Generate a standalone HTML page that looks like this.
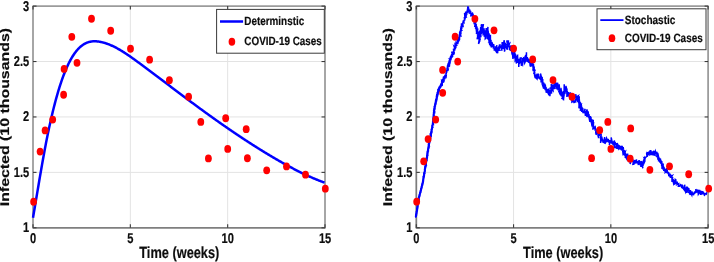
<!DOCTYPE html>
<html><head><meta charset="utf-8"><style>
html,body{margin:0;padding:0;background:#fff;width:714px;height:262px;overflow:hidden}
svg{display:block;-webkit-font-smoothing:antialiased;filter:blur(0.3px)}
.t text{filter:grayscale(1)}
text{font-family:"Liberation Sans", sans-serif;font-weight:bold;text-rendering:geometricPrecision;fill:#0d0d0d;stroke:#0d0d0d;stroke-width:0.2px}
</style></head><body>
<svg class="t" width="714" height="262" viewBox="0 0 714 262">
<rect width="714" height="262" fill="#fff"/>
<line x1="130.33" y1="6.1" x2="130.33" y2="227.8" stroke="#e3e3e3" stroke-width="1"/>
<line x1="227.67" y1="6.1" x2="227.67" y2="227.8" stroke="#e3e3e3" stroke-width="1"/>
<line x1="33.0" y1="172.38" x2="325.0" y2="172.38" stroke="#e3e3e3" stroke-width="1"/>
<line x1="33.0" y1="116.95" x2="325.0" y2="116.95" stroke="#e3e3e3" stroke-width="1"/>
<line x1="33.0" y1="61.53" x2="325.0" y2="61.53" stroke="#e3e3e3" stroke-width="1"/>
<line x1="513.57" y1="6.1" x2="513.57" y2="227.8" stroke="#e3e3e3" stroke-width="1"/>
<line x1="610.83" y1="6.1" x2="610.83" y2="227.8" stroke="#e3e3e3" stroke-width="1"/>
<line x1="416.3" y1="172.38" x2="708.1" y2="172.38" stroke="#e3e3e3" stroke-width="1"/>
<line x1="416.3" y1="116.95" x2="708.1" y2="116.95" stroke="#e3e3e3" stroke-width="1"/>
<line x1="416.3" y1="61.53" x2="708.1" y2="61.53" stroke="#e3e3e3" stroke-width="1"/>
<line x1="32.4" y1="6.1" x2="325.6" y2="6.1" stroke="#9b9b9b" stroke-width="1.8"/>
<line x1="32.4" y1="227.8" x2="325.6" y2="227.8" stroke="#7f7f7f" stroke-width="1.7"/>
<line x1="33.0" y1="6.1" x2="33.0" y2="227.8" stroke="#9a9a9a" stroke-width="1.75"/>
<line x1="325.0" y1="6.1" x2="325.0" y2="227.8" stroke="#9a9a9a" stroke-width="1.75"/>
<line x1="33.00" y1="227.8" x2="33.00" y2="224.3" stroke="#3a3a3a" stroke-width="1.1"/>
<line x1="33.00" y1="6.1" x2="33.00" y2="9.6" stroke="#3a3a3a" stroke-width="1.1"/>
<line x1="130.33" y1="227.8" x2="130.33" y2="224.3" stroke="#3a3a3a" stroke-width="1.1"/>
<line x1="130.33" y1="6.1" x2="130.33" y2="9.6" stroke="#3a3a3a" stroke-width="1.1"/>
<line x1="227.67" y1="227.8" x2="227.67" y2="224.3" stroke="#3a3a3a" stroke-width="1.1"/>
<line x1="227.67" y1="6.1" x2="227.67" y2="9.6" stroke="#3a3a3a" stroke-width="1.1"/>
<line x1="325.00" y1="227.8" x2="325.00" y2="224.3" stroke="#3a3a3a" stroke-width="1.1"/>
<line x1="325.00" y1="6.1" x2="325.00" y2="9.6" stroke="#3a3a3a" stroke-width="1.1"/>
<line x1="33.0" y1="227.80" x2="36.5" y2="227.80" stroke="#3a3a3a" stroke-width="1.1"/>
<line x1="325.0" y1="227.80" x2="321.5" y2="227.80" stroke="#3a3a3a" stroke-width="1.1"/>
<line x1="33.0" y1="172.38" x2="36.5" y2="172.38" stroke="#3a3a3a" stroke-width="1.1"/>
<line x1="325.0" y1="172.38" x2="321.5" y2="172.38" stroke="#3a3a3a" stroke-width="1.1"/>
<line x1="33.0" y1="116.95" x2="36.5" y2="116.95" stroke="#3a3a3a" stroke-width="1.1"/>
<line x1="325.0" y1="116.95" x2="321.5" y2="116.95" stroke="#3a3a3a" stroke-width="1.1"/>
<line x1="33.0" y1="61.53" x2="36.5" y2="61.53" stroke="#3a3a3a" stroke-width="1.1"/>
<line x1="325.0" y1="61.53" x2="321.5" y2="61.53" stroke="#3a3a3a" stroke-width="1.1"/>
<line x1="33.0" y1="6.10" x2="36.5" y2="6.10" stroke="#3a3a3a" stroke-width="1.1"/>
<line x1="325.0" y1="6.10" x2="321.5" y2="6.10" stroke="#3a3a3a" stroke-width="1.1"/>
<text transform="translate(33.10,243.10) scale(0.78,1)" font-size="14.2" text-anchor="middle" >0</text>
<text transform="translate(130.43,243.10) scale(0.78,1)" font-size="14.2" text-anchor="middle" >5</text>
<text transform="translate(227.77,243.10) scale(0.78,1)" font-size="14.2" text-anchor="middle" >10</text>
<text transform="translate(325.10,243.10) scale(0.78,1)" font-size="14.2" text-anchor="middle" >15</text>
<text transform="translate(29.20,232.20) scale(0.78,1)" font-size="14.2" text-anchor="end" >1</text>
<text transform="translate(29.20,176.78) scale(0.78,1)" font-size="14.2" text-anchor="end" >1.5</text>
<text transform="translate(29.20,121.35) scale(0.78,1)" font-size="14.2" text-anchor="end" >2</text>
<text transform="translate(29.20,65.93) scale(0.78,1)" font-size="14.2" text-anchor="end" >2.5</text>
<text transform="translate(29.20,10.50) scale(0.78,1)" font-size="14.2" text-anchor="end" >3</text>
<text transform="translate(179.30,258.30) scale(0.79,1)" font-size="16.2" text-anchor="middle" >Time (weeks)</text>
<text transform="translate(8.60,117.1) rotate(-90) scale(1,0.8)" font-size="15.9" text-anchor="middle">Infected (10 thousands)</text>
<line x1="415.7" y1="6.1" x2="708.7" y2="6.1" stroke="#9b9b9b" stroke-width="1.8"/>
<line x1="415.7" y1="227.8" x2="708.7" y2="227.8" stroke="#7f7f7f" stroke-width="1.7"/>
<line x1="416.3" y1="6.1" x2="416.3" y2="227.8" stroke="#7c7c7c" stroke-width="1.75"/>
<line x1="708.1" y1="6.1" x2="708.1" y2="227.8" stroke="#9a9a9a" stroke-width="1.75"/>
<line x1="416.30" y1="227.8" x2="416.30" y2="224.3" stroke="#3a3a3a" stroke-width="1.1"/>
<line x1="416.30" y1="6.1" x2="416.30" y2="9.6" stroke="#3a3a3a" stroke-width="1.1"/>
<line x1="513.57" y1="227.8" x2="513.57" y2="224.3" stroke="#3a3a3a" stroke-width="1.1"/>
<line x1="513.57" y1="6.1" x2="513.57" y2="9.6" stroke="#3a3a3a" stroke-width="1.1"/>
<line x1="610.83" y1="227.8" x2="610.83" y2="224.3" stroke="#3a3a3a" stroke-width="1.1"/>
<line x1="610.83" y1="6.1" x2="610.83" y2="9.6" stroke="#3a3a3a" stroke-width="1.1"/>
<line x1="708.10" y1="227.8" x2="708.10" y2="224.3" stroke="#3a3a3a" stroke-width="1.1"/>
<line x1="708.10" y1="6.1" x2="708.10" y2="9.6" stroke="#3a3a3a" stroke-width="1.1"/>
<line x1="416.3" y1="227.80" x2="419.8" y2="227.80" stroke="#3a3a3a" stroke-width="1.1"/>
<line x1="708.1" y1="227.80" x2="704.6" y2="227.80" stroke="#3a3a3a" stroke-width="1.1"/>
<line x1="416.3" y1="172.38" x2="419.8" y2="172.38" stroke="#3a3a3a" stroke-width="1.1"/>
<line x1="708.1" y1="172.38" x2="704.6" y2="172.38" stroke="#3a3a3a" stroke-width="1.1"/>
<line x1="416.3" y1="116.95" x2="419.8" y2="116.95" stroke="#3a3a3a" stroke-width="1.1"/>
<line x1="708.1" y1="116.95" x2="704.6" y2="116.95" stroke="#3a3a3a" stroke-width="1.1"/>
<line x1="416.3" y1="61.53" x2="419.8" y2="61.53" stroke="#3a3a3a" stroke-width="1.1"/>
<line x1="708.1" y1="61.53" x2="704.6" y2="61.53" stroke="#3a3a3a" stroke-width="1.1"/>
<line x1="416.3" y1="6.10" x2="419.8" y2="6.10" stroke="#3a3a3a" stroke-width="1.1"/>
<line x1="708.1" y1="6.10" x2="704.6" y2="6.10" stroke="#3a3a3a" stroke-width="1.1"/>
<text transform="translate(416.40,243.10) scale(0.78,1)" font-size="14.2" text-anchor="middle" >0</text>
<text transform="translate(513.67,243.10) scale(0.78,1)" font-size="14.2" text-anchor="middle" >5</text>
<text transform="translate(610.93,243.10) scale(0.78,1)" font-size="14.2" text-anchor="middle" >10</text>
<text transform="translate(708.20,243.10) scale(0.78,1)" font-size="14.2" text-anchor="middle" >15</text>
<text transform="translate(412.50,232.20) scale(0.78,1)" font-size="14.2" text-anchor="end" >1</text>
<text transform="translate(412.50,176.78) scale(0.78,1)" font-size="14.2" text-anchor="end" >1.5</text>
<text transform="translate(412.50,121.35) scale(0.78,1)" font-size="14.2" text-anchor="end" >2</text>
<text transform="translate(412.50,65.93) scale(0.78,1)" font-size="14.2" text-anchor="end" >2.5</text>
<text transform="translate(412.50,10.50) scale(0.78,1)" font-size="14.2" text-anchor="end" >3</text>
<text transform="translate(563.10,258.30) scale(0.79,1)" font-size="16.2" text-anchor="middle" >Time (weeks)</text>
<text transform="translate(391.90,117.1) rotate(-90) scale(1,0.8)" font-size="15.9" text-anchor="middle">Infected (10 thousands)</text>
<path d="M33.00,217.74 L33.50,214.82 L34.00,211.88 L34.50,208.93 L35.00,205.98 L35.50,203.01 L36.00,200.04 L36.50,197.07 L37.00,194.10 L37.50,191.14 L38.00,188.17 L38.50,185.22 L39.00,182.27 L39.50,179.33 L40.00,176.40 L40.50,173.49 L41.00,170.60 L41.50,167.73 L42.00,164.87 L42.50,162.04 L43.00,159.24 L43.50,156.46 L44.00,153.71 L44.50,151.00 L45.00,148.32 L45.50,145.67 L46.00,143.07 L46.50,140.50 L47.00,137.98 L47.50,135.50 L48.00,133.05 L48.50,130.65 L49.00,128.29 L49.50,125.97 L50.00,123.69 L50.50,121.44 L51.00,119.23 L51.50,117.07 L52.00,114.94 L52.50,112.84 L53.00,110.79 L53.50,108.77 L54.00,106.78 L54.50,104.83 L55.00,102.92 L55.50,101.04 L56.00,99.19 L56.50,97.38 L57.00,95.60 L57.50,93.86 L58.00,92.15 L58.50,90.47 L59.00,88.83 L59.50,87.22 L60.00,85.64 L60.50,84.10 L61.00,82.59 L61.50,81.11 L62.00,79.67 L62.50,78.26 L63.00,76.88 L63.50,75.54 L64.00,74.23 L64.50,72.95 L65.00,71.70 L65.50,70.48 L66.00,69.29 L66.50,68.14 L67.00,67.01 L67.50,65.92 L68.00,64.85 L68.50,63.81 L69.00,62.80 L69.50,61.82 L70.00,60.87 L70.50,59.95 L71.00,59.05 L71.50,58.18 L72.00,57.34 L72.50,56.52 L73.00,55.73 L73.50,54.96 L74.00,54.22 L74.50,53.51 L75.00,52.82 L75.50,52.15 L76.00,51.51 L76.50,50.89 L77.00,50.29 L77.50,49.72 L78.00,49.17 L78.50,48.64 L79.00,48.13 L79.50,47.65 L80.00,47.18 L80.50,46.74 L81.00,46.31 L81.50,45.91 L82.00,45.53 L82.50,45.16 L83.00,44.82 L83.50,44.49 L84.00,44.18 L84.50,43.89 L85.00,43.61 L85.50,43.36 L86.00,43.12 L86.50,42.90 L87.00,42.69 L87.50,42.50 L88.00,42.32 L88.50,42.16 L89.00,42.01 L89.50,41.88 L90.00,41.76 L90.50,41.66 L91.00,41.57 L91.50,41.49 L92.00,41.43 L92.50,41.37 L93.00,41.33 L93.50,41.30 L94.00,41.28 L94.50,41.28 L95.00,41.28 L95.50,41.29 L96.00,41.31 L96.50,41.35 L97.00,41.39 L97.50,41.44 L98.00,41.50 L98.50,41.56 L99.00,41.64 L99.50,41.72 L100.00,41.81 L100.50,41.90 L101.00,42.00 L101.50,42.11 L102.00,42.23 L102.50,42.35 L103.00,42.47 L103.50,42.61 L104.00,42.75 L104.50,42.89 L105.00,43.04 L105.50,43.20 L106.00,43.36 L106.50,43.53 L107.00,43.71 L107.50,43.89 L108.00,44.07 L108.50,44.26 L109.00,44.46 L109.50,44.66 L110.00,44.86 L110.50,45.07 L111.00,45.29 L111.50,45.51 L112.00,45.74 L112.50,45.97 L113.00,46.20 L113.50,46.44 L114.00,46.68 L114.50,46.93 L115.00,47.19 L115.50,47.44 L116.00,47.70 L116.50,47.97 L117.00,48.24 L117.50,48.51 L118.00,48.79 L118.50,49.07 L119.00,49.35 L119.50,49.64 L120.00,49.94 L120.50,50.23 L121.00,50.53 L121.50,50.83 L122.00,51.14 L122.50,51.44 L123.00,51.76 L123.50,52.07 L124.00,52.39 L124.50,52.71 L125.00,53.03 L125.50,53.36 L126.00,53.68 L126.50,54.02 L127.00,54.35 L127.50,54.68 L128.00,55.02 L128.50,55.36 L129.00,55.70 L129.50,56.05 L130.00,56.39 L130.50,56.74 L131.00,57.09 L131.50,57.44 L132.00,57.80 L132.50,58.15 L133.00,58.51 L133.50,58.87 L134.00,59.23 L134.50,59.59 L135.00,59.95 L135.50,60.31 L136.00,60.67 L136.50,61.04 L137.00,61.40 L137.50,61.77 L138.00,62.14 L138.50,62.50 L139.00,62.87 L139.50,63.24 L140.00,63.61 L140.50,63.98 L141.00,64.35 L141.50,64.72 L142.00,65.09 L142.50,65.46 L143.00,65.83 L143.50,66.20 L144.00,66.57 L144.50,66.95 L145.00,67.32 L145.50,67.69 L146.00,68.06 L146.50,68.43 L147.00,68.81 L147.50,69.18 L148.00,69.55 L148.50,69.93 L149.00,70.30 L149.50,70.68 L150.00,71.05 L150.50,71.42 L151.00,71.80 L151.50,72.17 L152.00,72.55 L152.50,72.92 L153.00,73.30 L153.50,73.68 L154.00,74.05 L154.50,74.43 L155.00,74.80 L155.50,75.18 L156.00,75.56 L156.50,75.93 L157.00,76.31 L157.50,76.68 L158.00,77.06 L158.50,77.44 L159.00,77.82 L159.50,78.19 L160.00,78.57 L160.50,78.95 L161.00,79.32 L161.50,79.70 L162.00,80.08 L162.50,80.46 L163.00,80.83 L163.50,81.21 L164.00,81.59 L164.50,81.97 L165.00,82.34 L165.50,82.72 L166.00,83.10 L166.50,83.48 L167.00,83.86 L167.50,84.23 L168.00,84.61 L168.50,84.99 L169.00,85.37 L169.50,85.74 L170.00,86.12 L170.50,86.50 L171.00,86.88 L171.50,87.26 L172.00,87.63 L172.50,88.01 L173.00,88.39 L173.50,88.77 L174.00,89.14 L174.50,89.52 L175.00,89.90 L175.50,90.27 L176.00,90.65 L176.50,91.03 L177.00,91.40 L177.50,91.78 L178.00,92.16 L178.50,92.53 L179.00,92.91 L179.50,93.29 L180.00,93.66 L180.50,94.04 L181.00,94.41 L181.50,94.79 L182.00,95.17 L182.50,95.54 L183.00,95.92 L183.50,96.29 L184.00,96.67 L184.50,97.04 L185.00,97.41 L185.50,97.79 L186.00,98.16 L186.50,98.54 L187.00,98.91 L187.50,99.28 L188.00,99.65 L188.50,100.03 L189.00,100.40 L189.50,100.77 L190.00,101.14 L190.50,101.52 L191.00,101.89 L191.50,102.26 L192.00,102.63 L192.50,103.00 L193.00,103.37 L193.50,103.74 L194.00,104.11 L194.50,104.48 L195.00,104.85 L195.50,105.22 L196.00,105.59 L196.50,105.95 L197.00,106.32 L197.50,106.69 L198.00,107.06 L198.50,107.42 L199.00,107.79 L199.50,108.16 L200.00,108.52 L200.50,108.89 L201.00,109.25 L201.50,109.62 L202.00,109.98 L202.50,110.35 L203.00,110.71 L203.50,111.07 L204.00,111.44 L204.50,111.80 L205.00,112.16 L205.50,112.52 L206.00,112.89 L206.50,113.25 L207.00,113.61 L207.50,113.97 L208.00,114.33 L208.50,114.69 L209.00,115.05 L209.50,115.41 L210.00,115.77 L210.50,116.13 L211.00,116.48 L211.50,116.84 L212.00,117.20 L212.50,117.56 L213.00,117.91 L213.50,118.27 L214.00,118.62 L214.50,118.98 L215.00,119.33 L215.50,119.69 L216.00,120.04 L216.50,120.40 L217.00,120.75 L217.50,121.10 L218.00,121.46 L218.50,121.81 L219.00,122.16 L219.50,122.51 L220.00,122.86 L220.50,123.21 L221.00,123.56 L221.50,123.91 L222.00,124.26 L222.50,124.61 L223.00,124.96 L223.50,125.31 L224.00,125.66 L224.50,126.00 L225.00,126.35 L225.50,126.70 L226.00,127.04 L226.50,127.39 L227.00,127.73 L227.50,128.08 L228.00,128.42 L228.50,128.76 L229.00,129.11 L229.50,129.45 L230.00,129.79 L230.50,130.13 L231.00,130.48 L231.50,130.82 L232.00,131.16 L232.50,131.50 L233.00,131.84 L233.50,132.18 L234.00,132.51 L234.50,132.85 L235.00,133.19 L235.50,133.53 L236.00,133.86 L236.50,134.20 L237.00,134.54 L237.50,134.87 L238.00,135.21 L238.50,135.54 L239.00,135.87 L239.50,136.21 L240.00,136.54 L240.50,136.87 L241.00,137.20 L241.50,137.54 L242.00,137.87 L242.50,138.20 L243.00,138.53 L243.50,138.86 L244.00,139.19 L244.50,139.51 L245.00,139.84 L245.50,140.17 L246.00,140.50 L246.50,140.82 L247.00,141.15 L247.50,141.47 L248.00,141.80 L248.50,142.12 L249.00,142.44 L249.50,142.77 L250.00,143.09 L250.50,143.41 L251.00,143.73 L251.50,144.05 L252.00,144.38 L252.50,144.69 L253.00,145.01 L253.50,145.33 L254.00,145.65 L254.50,145.97 L255.00,146.29 L255.50,146.60 L256.00,146.92 L256.50,147.23 L257.00,147.55 L257.50,147.86 L258.00,148.18 L258.50,148.49 L259.00,148.80 L259.50,149.11 L260.00,149.43 L260.50,149.74 L261.00,150.05 L261.50,150.36 L262.00,150.66 L262.50,150.97 L263.00,151.28 L263.50,151.59 L264.00,151.90 L264.50,152.20 L265.00,152.51 L265.50,152.81 L266.00,153.12 L266.50,153.42 L267.00,153.72 L267.50,154.03 L268.00,154.33 L268.50,154.63 L269.00,154.93 L269.50,155.23 L270.00,155.53 L270.50,155.83 L271.00,156.13 L271.50,156.42 L272.00,156.72 L272.50,157.02 L273.00,157.31 L273.50,157.61 L274.00,157.90 L274.50,158.19 L275.00,158.49 L275.50,158.78 L276.00,159.07 L276.50,159.36 L277.00,159.65 L277.50,159.94 L278.00,160.23 L278.50,160.52 L279.00,160.80 L279.50,161.09 L280.00,161.38 L280.50,161.66 L281.00,161.94 L281.50,162.23 L282.00,162.51 L282.50,162.79 L283.00,163.07 L283.50,163.35 L284.00,163.63 L284.50,163.91 L285.00,164.18 L285.50,164.46 L286.00,164.74 L286.50,165.01 L287.00,165.28 L287.50,165.56 L288.00,165.83 L288.50,166.10 L289.00,166.37 L289.50,166.64 L290.00,166.91 L290.50,167.17 L291.00,167.44 L291.50,167.70 L292.00,167.97 L292.50,168.23 L293.00,168.49 L293.50,168.76 L294.00,169.02 L294.50,169.27 L295.00,169.53 L295.50,169.79 L296.00,170.05 L296.50,170.30 L297.00,170.55 L297.50,170.81 L298.00,171.06 L298.50,171.31 L299.00,171.56 L299.50,171.81 L300.00,172.05 L300.50,172.30 L301.00,172.55 L301.50,172.79 L302.00,173.03 L302.50,173.27 L303.00,173.51 L303.50,173.75 L304.00,173.99 L304.50,174.23 L305.00,174.46 L305.50,174.70 L306.00,174.93 L306.50,175.16 L307.00,175.39 L307.50,175.62 L308.00,175.85 L308.50,176.08 L309.00,176.31 L309.50,176.53 L310.00,176.75 L310.50,176.97 L311.00,177.20 L311.50,177.41 L312.00,177.63 L312.50,177.85 L313.00,178.06 L313.50,178.28 L314.00,178.49 L314.50,178.70 L315.00,178.91 L315.50,179.12 L316.00,179.33 L316.50,179.53 L317.00,179.74 L317.50,179.94 L318.00,180.14 L318.50,180.34 L319.00,180.54 L319.50,180.74 L320.00,180.93 L320.50,181.13 L321.00,181.32 L321.50,181.51 L322.00,181.70 L322.50,181.89 L323.00,182.08 L323.50,182.26 L324.00,182.45 L324.50,182.63" fill="none" stroke="#0000ff" stroke-width="2.5" stroke-linejoin="round" stroke-linecap="butt"/>
<path d="M415.90,217.10 L415.99,216.71 L415.86,216.68 L415.90,215.87 L416.09,215.83 L416.00,215.98 L416.05,215.40 L416.11,214.42 L416.18,215.02 L416.34,213.81 L416.33,213.49 L416.52,213.93 L416.39,213.50 L416.44,213.33 L416.64,213.06 L416.64,212.82 L416.60,212.75 L416.55,211.90 L416.64,211.69 L416.72,211.27 L416.85,210.79 L416.96,210.54 L416.98,210.62 L416.97,210.25 L417.12,210.41 L417.20,209.60 L416.98,209.05 L417.04,208.51 L417.19,209.04 L417.32,208.96 L417.31,208.28 L417.39,208.07 L417.41,207.33 L417.53,206.90 L417.61,206.76 L417.38,206.13 L417.62,206.44 L417.71,205.37 L417.59,204.85 L417.55,205.05 L417.73,205.52 L417.65,204.95 L417.92,204.72 L417.85,204.45 L418.05,204.17 L417.99,204.02 L418.14,203.56 L418.00,203.38 L418.09,202.11 L418.31,202.00 L418.10,202.77 L418.17,202.00 L418.30,201.82 L418.19,201.04 L418.37,200.83 L418.58,200.36 L418.54,200.73 L418.59,199.58 L418.44,199.74 L418.74,200.01 L418.76,198.81 L418.59,198.60 L418.80,198.83 L418.72,198.42 L418.75,198.05 L418.74,197.64 L418.86,197.51 L418.90,197.40 L419.24,197.03 L419.12,196.37 L419.22,196.10 L419.46,195.82 L419.58,195.80 L419.36,194.94 L419.44,195.16 L419.75,194.61 L419.61,194.73 L419.80,195.09 L419.75,194.03 L419.95,193.52 L420.17,193.29 L420.01,193.40 L420.12,192.29 L420.24,192.75 L420.40,192.70 L420.48,191.72 L420.61,191.79 L420.63,191.67 L420.68,190.43 L420.63,190.74 L420.60,190.84 L420.75,190.39 L420.96,189.85 L421.12,189.90 L421.21,189.10 L421.03,189.27 L421.11,188.53 L421.31,188.42 L421.48,188.29 L421.47,187.99 L421.59,187.09 L421.70,187.65 L421.73,187.16 L421.61,186.58 L421.88,185.85 L422.02,185.66 L421.90,186.30 L422.09,184.66 L421.98,185.66 L422.29,184.98 L422.34,184.69 L422.47,184.68 L422.43,184.52 L422.33,183.37 L422.37,183.76 L422.61,183.62 L422.82,182.68 L422.86,181.77 L422.73,182.51 L422.81,181.90 L422.98,181.93 L422.88,181.28 L423.19,181.41 L423.13,180.45 L423.29,180.75 L423.20,179.35 L423.26,180.23 L423.28,179.45 L423.24,179.21 L423.29,179.62 L423.44,178.64 L423.44,178.25 L423.56,177.54 L423.47,177.09 L423.67,177.20 L423.79,177.14 L423.75,177.16 L423.94,175.93 L423.83,176.00 L423.90,175.60 L424.02,175.35 L423.99,174.89 L424.20,175.20 L424.25,174.51 L424.07,173.70 L424.32,173.29 L424.13,173.52 L424.15,173.88 L424.26,173.57 L424.50,173.50 L424.59,172.94 L424.56,172.73 L424.43,172.60 L424.50,172.55 L424.81,170.79 L424.87,170.82 L424.87,171.17 L424.81,170.82 L424.79,170.66 L424.98,170.12 L424.78,170.03 L424.83,169.00 L424.98,168.96 L424.94,168.46 L425.31,168.17 L425.05,168.46 L425.15,166.87 L425.20,168.28 L425.20,167.48 L425.49,166.23 L425.34,167.13 L425.50,166.94 L425.59,166.84 L425.63,165.93 L425.59,165.59 L425.71,166.07 L425.82,165.33 L425.61,165.30 L425.94,164.72 L425.87,163.67 L426.05,163.83 L425.96,163.40 L425.91,163.34 L425.89,163.01 L425.99,162.68 L426.23,162.10 L426.12,162.25 L426.18,161.38 L426.12,161.33 L426.42,161.03 L426.40,160.81 L426.58,160.61 L426.34,160.56 L426.52,160.02 L426.69,159.15 L426.69,158.86 L426.84,159.24 L426.79,158.22 L426.81,158.98 L426.65,157.73 L426.73,157.96 L426.82,158.05 L426.83,157.44 L427.13,157.52 L427.11,156.95 L427.02,156.19 L427.13,156.25 L427.11,155.90 L427.41,155.73 L427.20,155.56 L427.50,154.67 L427.21,154.32 L427.39,154.52 L427.37,153.38 L427.53,153.64 L427.43,153.58 L427.59,152.97 L427.60,152.75 L427.62,152.39 L427.86,151.63 L427.87,151.51 L427.82,151.29 L427.85,150.34 L428.04,151.10 L428.06,150.55 L428.20,151.03 L428.15,150.19 L428.02,149.60 L428.21,148.63 L428.36,148.29 L428.41,148.76 L428.41,147.73 L428.46,147.74 L428.30,147.90 L428.43,147.69 L428.55,147.91 L428.63,147.47 L428.62,146.25 L428.49,145.94 L428.72,146.29 L428.78,145.13 L428.90,145.41 L428.77,145.06 L429.00,145.19 L428.85,144.74 L429.01,144.22 L429.01,142.86 L429.20,143.07 L429.20,143.48 L429.07,143.00 L429.17,142.67 L429.34,142.49 L429.19,141.86 L429.49,142.23 L429.55,141.75 L429.54,141.17 L429.58,140.72 L429.80,140.53 L429.59,140.49 L429.58,141.12 L429.80,139.72 L429.86,140.03 L429.85,138.26 L429.88,139.22 L430.07,139.66 L430.27,138.70 L430.02,138.48 L430.36,138.00 L430.34,137.03 L430.32,137.30 L430.20,137.80 L430.42,137.10 L430.42,136.32 L430.48,136.26 L430.73,136.02 L430.79,136.13 L430.58,135.13 L430.93,135.43 L430.75,134.24 L431.07,133.95 L430.98,134.25 L430.92,133.36 L430.89,133.70 L431.03,133.71 L431.33,133.25 L431.23,132.47 L431.16,132.51 L431.48,131.13 L431.51,132.35 L431.62,130.64 L431.52,130.30 L431.65,130.67 L431.60,130.27 L431.59,130.12 L431.56,129.19 L431.78,129.72 L431.78,129.12 L432.08,128.72 L431.86,129.30 L432.03,128.13 L432.03,127.74 L432.01,127.87 L432.34,127.67 L432.39,126.85 L432.48,126.86 L432.23,126.34 L432.25,126.34 L432.36,125.87 L432.43,125.84 L432.67,124.56 L432.60,124.70 L432.64,124.34 L432.68,124.77 L432.98,124.52 L432.69,124.03 L433.00,122.99 L432.79,123.29 L432.89,122.96 L432.94,123.03 L433.13,123.21 L432.84,121.86 L433.20,122.47 L433.07,121.64 L433.07,121.19 L433.31,120.90 L433.36,120.99 L433.11,119.54 L433.25,120.20 L433.34,119.86 L433.36,120.05 L433.44,118.85 L433.19,118.27 L433.51,118.65 L433.49,118.31 L433.38,118.88 L433.55,117.83 L433.60,117.54 L433.57,117.13 L433.62,116.81 L433.66,116.16 L433.46,116.30 L433.86,115.64 L433.77,115.96 L433.64,115.57 L433.68,114.57 L433.73,115.27 L433.65,114.13 L433.84,113.34 L433.81,113.71 L433.83,112.90 L433.78,112.23 L434.07,112.56 L433.91,112.89 L434.06,112.41 L433.98,111.21 L434.25,111.97 L434.05,111.23 L434.10,111.13 L434.39,111.43 L434.14,110.12 L434.25,110.11 L434.17,109.25 L434.30,108.57 L434.23,109.48 L434.23,110.06 L434.59,109.01 L434.62,108.46 L434.67,107.83 L434.50,106.38 L434.73,107.82 L434.51,108.07 L434.71,106.60 L434.76,106.15 L434.80,106.24 L434.89,105.96 L435.20,105.86 L434.96,105.28 L435.27,104.53 L435.18,105.40 L435.22,104.94 L435.50,104.32 L435.56,104.02 L435.28,103.97 L435.63,102.58 L435.41,103.42 L435.82,102.84 L435.62,102.43 L435.72,102.08 L435.76,100.84 L435.82,102.11 L436.07,101.05 L435.84,100.77 L436.21,100.96 L436.36,100.89 L436.03,99.69 L436.50,99.79 L436.57,99.98 L436.40,98.86 L436.49,99.09 L436.70,98.84 L436.73,98.12 L436.74,98.35 L436.67,96.87 L436.95,97.16 L436.67,97.53 L436.81,97.07 L436.78,97.33 L436.98,96.86 L437.39,96.04 L437.07,96.82 L437.04,94.20 L437.47,95.55 L437.39,95.09 L437.57,94.48 L437.67,94.72 L437.74,93.81 L437.49,92.38 L437.83,93.51 L437.79,92.51 L437.78,92.61 L437.85,91.94 L438.14,92.80 L438.05,92.84 L438.24,89.87 L438.13,92.39 L438.72,91.21 L438.18,89.68 L438.77,89.06 L438.90,90.18 L438.40,90.23 L438.53,89.53 L439.14,90.00 L438.80,88.64 L438.87,89.05 L439.43,87.68 L439.44,88.33 L439.61,87.62 L439.37,87.62 L439.57,87.94 L440.11,86.91 L439.87,87.76 L440.45,87.13 L440.14,86.20 L440.87,85.66 L440.79,86.15 L440.80,85.72 L441.10,85.24 L440.86,84.57 L441.57,84.25 L441.31,83.66 L442.16,84.43 L441.67,83.29 L441.88,84.64 L441.98,85.38 L441.94,80.46 L441.86,82.60 L443.07,81.76 L442.63,80.48 L443.37,82.79 L442.42,81.01 L443.21,81.48 L442.74,79.55 L443.54,78.92 L443.04,79.58 L443.34,81.12 L443.23,77.38 L443.85,79.26 L443.58,80.31 L443.60,76.23 L444.21,81.67 L443.72,77.34 L445.04,79.20 L444.76,77.35 L445.13,77.91 L444.43,76.67 L445.44,75.08 L444.60,78.06 L445.22,76.68 L445.14,77.38 L445.78,76.54 L446.17,76.24 L446.08,76.87 L445.07,75.42 L446.05,75.05 L446.06,73.87 L445.94,73.35 L446.30,73.04 L446.17,71.84 L446.25,74.12 L446.42,74.76 L446.10,72.94 L446.55,72.58 L446.20,69.82 L446.21,71.18 L446.77,71.61 L446.98,72.40 L446.31,71.69 L447.49,70.27 L447.64,69.92 L447.29,69.60 L447.16,69.71 L448.01,70.13 L448.31,68.93 L447.11,68.58 L448.45,66.15 L448.43,64.95 L447.30,68.14 L447.22,68.41 L447.76,64.41 L448.71,67.12 L447.80,66.02 L448.24,66.80 L448.99,65.53 L448.41,66.18 L448.19,66.63 L448.02,66.15 L449.34,65.23 L448.19,63.52 L449.26,61.87 L449.10,65.39 L448.74,64.95 L449.17,64.75 L449.73,62.04 L449.41,66.33 L449.11,65.27 L450.14,62.69 L449.56,61.08 L449.43,60.33 L449.08,63.27 L450.23,61.20 L449.44,60.51 L450.09,58.15 L450.33,57.37 L449.44,60.06 L449.74,59.88 L450.44,58.44 L451.17,58.27 L450.90,59.62 L450.01,59.40 L450.26,59.67 L450.78,58.13 L451.27,58.12 L450.77,59.34 L450.78,56.15 L452.18,55.88 L450.95,56.73 L451.93,57.20 L451.67,57.80 L451.57,54.10 L452.16,57.56 L451.94,55.43 L453.00,54.08 L452.78,53.52 L451.78,54.46 L452.67,57.16 L452.02,53.01 L453.28,54.15 L453.64,55.06 L452.47,53.14 L453.16,53.32 L453.48,54.26 L453.06,52.49 L453.15,51.06 L454.03,54.40 L454.02,52.18 L454.18,53.73 L453.84,50.84 L453.56,50.36 L453.47,48.61 L453.95,49.92 L454.71,49.98 L454.76,48.38 L454.15,46.43 L455.09,47.30 L454.78,47.94 L455.59,47.97 L454.50,49.92 L454.67,47.78 L454.74,47.14 L455.66,46.89 L455.10,43.29 L455.06,47.39 L456.24,45.29 L455.96,44.38 L456.57,43.98 L456.23,42.61 L456.60,45.56 L456.26,42.61 L455.95,45.37 L455.70,44.67 L457.15,45.88 L455.97,43.84 L457.40,43.62 L456.08,42.61 L456.21,43.45 L457.38,41.77 L457.56,40.29 L457.07,43.73 L457.92,42.44 L456.83,42.68 L458.23,38.30 L457.12,43.84 L457.40,38.72 L458.54,40.55 L458.60,40.22 L458.42,37.86 L457.99,37.35 L458.85,39.67 L458.08,39.24 L457.90,37.91 L458.40,39.69 L458.69,37.52 L458.69,40.01 L459.62,39.12 L459.32,36.72 L459.11,38.33 L459.72,36.82 L459.42,34.90 L458.99,37.84 L460.03,36.06 L459.07,34.84 L460.09,36.05 L460.51,34.76 L459.81,36.19 L460.38,34.21 L459.74,34.56 L460.59,35.17 L459.79,33.03 L459.76,36.55 L459.67,32.14 L460.59,30.73 L460.76,34.38 L460.98,33.07 L460.44,30.54 L460.51,30.21 L461.38,31.39 L460.07,30.22 L461.55,30.63 L460.99,31.13 L460.64,27.52 L461.08,31.52 L461.62,26.74 L461.53,28.36 L460.82,27.80 L462.00,29.30 L461.00,26.70 L461.51,25.63 L461.08,27.64 L461.70,25.19 L461.34,27.57 L461.60,25.78 L461.44,25.38 L461.52,23.25 L462.18,25.61 L461.68,26.56 L463.06,24.57 L462.77,25.53 L461.86,27.34 L462.41,26.30 L463.07,26.35 L462.70,23.32 L462.27,23.95 L462.53,24.88 L462.94,22.43 L463.67,22.66 L463.51,21.57 L463.34,20.33 L463.35,22.75 L463.99,22.75 L463.82,22.22 L464.20,19.92 L464.26,19.56 L464.61,20.61 L464.66,20.18 L464.49,17.48 L464.00,18.35 L464.61,17.84 L464.95,19.86 L464.94,19.24 L464.58,17.44 L464.73,17.12 L465.18,16.58 L465.69,16.34 L465.55,17.79 L465.02,18.48 L464.56,12.85 L465.47,16.37 L466.20,17.08 L465.63,17.51 L465.77,16.66 L466.15,16.01 L466.43,12.85 L466.03,14.28 L465.64,11.46 L466.49,15.52 L465.70,11.83 L467.18,14.63 L466.14,12.69 L466.44,13.02 L466.57,13.72 L467.12,12.20 L466.46,11.20 L467.39,12.32 L466.65,12.68 L467.68,10.35 L466.71,9.95 L467.84,10.90 L467.45,10.72 L467.70,8.08 L467.47,9.97 L468.02,12.42 L467.85,9.87 L467.67,6.48 L468.70,8.23 L468.11,8.92 L468.31,9.96 L468.28,8.83 L468.05,9.16 L469.37,10.50 L468.87,10.21 L469.32,11.57 L469.78,9.32 L469.48,11.93 L469.16,13.61 L470.56,10.63 L469.63,13.72 L470.90,10.99 L469.76,12.31 L471.44,12.55 L470.25,12.45 L470.48,12.45 L470.98,13.69 L470.84,15.81 L471.03,15.75 L472.36,13.03 L472.17,12.87 L472.68,13.45 L471.71,15.60 L472.64,12.98 L472.38,13.52 L473.24,15.45 L472.35,15.15 L472.34,16.05 L473.01,16.20 L472.64,16.98 L473.42,15.54 L474.08,17.59 L473.52,20.62 L473.74,18.20 L473.51,16.92 L473.65,16.18 L474.06,19.55 L474.13,19.11 L474.27,21.64 L474.74,20.23 L474.14,17.99 L474.17,24.35 L474.61,21.06 L474.53,20.76 L474.18,19.61 L474.42,24.36 L474.07,19.11 L474.50,21.74 L475.20,20.61 L474.41,23.78 L474.82,23.88 L474.51,21.83 L475.20,19.00 L475.48,23.76 L474.76,23.50 L475.29,25.87 L474.49,22.78 L475.65,22.79 L474.64,27.10 L475.11,24.22 L476.17,27.18 L475.75,26.35 L476.32,24.83 L475.92,24.16 L476.13,25.25 L476.05,25.73 L476.25,27.25 L475.99,26.90 L475.63,28.47 L475.48,27.81 L476.55,29.66 L476.17,24.99 L476.56,31.13 L476.15,26.75 L476.33,29.52 L476.59,32.50 L476.07,27.82 L476.97,27.38 L477.44,32.41 L477.14,31.96 L476.32,33.98 L477.00,31.18 L478.03,28.41 L477.30,30.15 L477.65,32.35 L477.04,34.02 L476.84,34.01 L478.05,34.39 L477.23,38.55 L478.61,38.70 L478.49,35.23 L477.86,35.53 L477.68,35.35 L478.97,34.28 L479.02,35.02 L478.12,31.78 L478.85,34.03 L479.73,34.16 L479.52,37.05 L478.52,43.89 L479.89,40.80 L478.79,37.25 L479.01,35.09 L480.21,40.12 L479.50,35.14 L479.92,35.81 L479.31,31.85 L480.44,36.61 L480.25,32.41 L480.00,37.39 L480.92,30.82 L480.75,36.97 L479.67,31.70 L481.22,32.50 L480.27,31.68 L480.80,28.13 L480.87,37.35 L480.49,31.51 L480.68,27.01 L481.25,33.97 L481.53,26.89 L480.78,27.73 L481.08,32.76 L481.43,30.46 L480.64,32.33 L481.99,24.89 L481.65,31.53 L481.26,24.44 L482.00,31.76 L482.45,24.89 L481.95,27.75 L482.43,28.98 L482.73,29.11 L481.69,31.60 L482.14,24.15 L481.83,25.06 L482.87,27.64 L482.45,32.37 L483.05,32.34 L482.29,31.08 L483.44,24.08 L482.96,26.56 L482.53,26.07 L482.64,30.28 L483.02,31.75 L483.44,33.98 L482.88,28.08 L482.82,32.71 L483.02,33.70 L483.97,31.44 L484.01,32.12 L483.71,30.59 L483.32,31.82 L484.95,32.56 L484.38,34.90 L483.99,30.98 L485.19,33.98 L485.01,31.10 L484.29,36.84 L484.05,28.33 L484.23,35.12 L484.28,36.46 L485.03,30.33 L485.95,33.08 L485.53,35.42 L485.35,33.84 L485.26,38.80 L485.89,38.21 L486.20,29.39 L485.89,28.21 L486.95,31.46 L487.12,33.10 L486.08,32.45 L486.38,32.75 L487.29,36.31 L486.16,28.27 L487.26,32.09 L487.94,26.96 L487.71,31.95 L488.07,31.39 L487.59,30.23 L487.93,29.55 L487.20,33.56 L487.06,33.46 L487.31,30.82 L487.23,32.84 L488.22,32.77 L487.46,32.88 L487.57,39.26 L488.78,35.15 L487.59,37.72 L488.15,30.44 L488.85,39.53 L488.58,38.37 L488.97,33.07 L488.49,36.28 L488.15,34.90 L487.96,35.16 L488.17,35.74 L489.40,33.61 L488.33,36.79 L488.59,39.97 L488.49,38.88 L489.08,35.99 L488.55,35.95 L490.01,43.55 L489.58,43.90 L488.92,41.01 L489.07,37.34 L489.05,40.00 L490.40,34.85 L490.43,46.17 L490.53,42.26 L489.34,42.02 L490.97,40.76 L489.58,39.24 L489.92,42.42 L489.85,39.70 L490.30,43.68 L490.85,39.70 L491.21,44.20 L490.67,42.01 L491.74,45.07 L491.06,47.43 L491.87,44.71 L491.84,44.54 L492.18,44.03 L492.48,46.26 L491.82,46.09 L491.76,41.98 L492.95,45.08 L492.04,43.04 L493.45,46.74 L493.63,44.03 L493.86,45.98 L493.31,46.72 L493.00,48.35 L494.18,45.80 L493.59,46.48 L494.25,48.70 L494.31,50.72 L494.73,47.83 L495.51,50.72 L495.88,50.65 L495.41,46.27 L496.30,51.64 L496.93,52.88 L496.49,50.14 L496.86,45.22 L496.33,48.12 L496.89,50.21 L497.06,48.18 L497.25,48.61 L497.65,53.32 L497.82,48.07 L499.03,46.92 L499.49,45.68 L498.81,46.87 L499.01,50.88 L499.42,45.16 L499.96,45.01 L500.00,47.97 L501.03,46.62 L501.75,48.39 L501.86,49.49 L501.21,50.02 L501.86,50.01 L502.20,42.01 L502.45,48.73 L503.61,44.43 L502.77,47.27 L503.21,44.55 L504.25,40.23 L504.71,49.30 L503.62,48.35 L504.65,41.92 L504.51,51.79 L505.08,44.59 L505.54,44.41 L505.09,44.13 L505.30,43.09 L505.77,46.85 L507.34,49.73 L507.14,44.62 L507.83,47.17 L506.75,40.44 L508.05,44.16 L507.66,44.05 L508.48,40.34 L508.15,44.44 L509.53,43.49 L508.73,45.93 L508.72,45.23 L509.74,49.94 L509.48,49.62 L510.06,46.17 L509.78,45.79 L510.05,47.03 L510.56,46.82 L510.60,50.19 L511.66,50.69 L511.40,49.97 L510.86,45.45 L511.78,47.43 L511.74,46.24 L511.62,50.26 L511.33,49.13 L511.90,51.78 L511.21,47.97 L511.87,52.83 L512.30,52.11 L512.31,49.86 L512.10,49.96 L512.98,58.86 L513.24,52.59 L512.66,53.15 L512.77,54.91 L513.35,53.88 L513.82,54.60 L513.58,54.64 L513.07,55.07 L513.70,55.93 L514.04,50.87 L513.66,51.53 L514.16,54.69 L513.81,51.26 L514.63,56.38 L513.48,52.11 L514.61,56.28 L514.43,56.25 L514.52,50.47 L514.42,57.04 L514.88,58.25 L514.67,52.66 L515.38,55.17 L514.84,58.79 L515.14,55.87 L515.20,60.47 L515.64,59.86 L515.70,54.45 L515.38,60.12 L516.22,61.44 L516.93,58.90 L516.13,59.56 L517.30,62.88 L516.25,56.75 L516.09,56.09 L516.30,63.47 L517.85,58.76 L517.77,60.50 L517.52,54.64 L517.67,60.07 L517.57,61.45 L518.26,60.13 L518.70,58.78 L518.76,66.89 L518.87,64.00 L519.43,63.39 L520.38,57.54 L519.93,59.67 L521.05,58.69 L520.31,62.97 L520.34,57.34 L520.88,60.76 L521.50,65.95 L521.16,60.84 L522.61,64.26 L523.18,59.05 L522.11,63.03 L522.59,59.33 L522.69,57.95 L522.94,60.39 L523.47,58.20 L524.76,57.88 L524.09,59.60 L524.95,59.36 L523.96,58.44 L524.70,62.94 L525.55,61.08 L525.05,56.54 L525.43,55.99 L526.30,59.22 L526.46,52.25 L526.47,57.94 L527.29,60.71 L526.52,60.84 L527.45,61.23 L528.20,61.09 L527.25,57.17 L527.44,57.80 L528.84,61.04 L528.53,58.88 L528.39,62.02 L529.95,62.92 L529.48,59.58 L529.64,60.58 L530.22,66.48 L531.08,63.67 L530.21,59.15 L530.14,63.57 L530.83,66.72 L532.03,60.78 L531.82,63.69 L532.65,61.25 L531.77,57.53 L532.26,63.58 L532.39,63.27 L533.37,62.28 L532.42,60.07 L532.37,64.90 L533.72,63.84 L532.69,66.25 L533.15,64.31 L532.98,65.25 L532.62,65.27 L533.81,66.76 L532.86,65.53 L533.08,68.28 L533.75,67.22 L533.30,68.08 L532.97,69.79 L533.32,71.09 L533.66,68.97 L534.36,67.60 L533.65,69.41 L534.30,67.95 L533.55,65.34 L534.80,73.94 L534.07,68.47 L533.62,70.38 L534.92,70.24 L534.48,69.29 L534.58,70.14 L534.01,72.91 L534.56,72.75 L534.67,71.36 L534.49,72.00 L534.99,76.78 L534.63,71.28 L534.21,72.58 L534.65,75.71 L535.26,78.07 L534.98,76.55 L535.40,76.35 L535.30,74.45 L535.36,75.75 L535.65,77.75 L536.05,78.02 L537.01,79.00 L537.18,73.70 L536.05,77.36 L537.29,77.71 L537.06,75.45 L537.65,74.96 L538.15,76.49 L537.56,75.61 L537.38,76.49 L538.97,76.37 L537.88,77.00 L538.19,73.67 L538.92,78.02 L539.36,78.45 L540.08,79.01 L539.66,77.49 L540.83,78.53 L540.40,74.35 L540.86,73.61 L540.38,78.48 L540.91,79.39 L540.59,74.26 L540.67,79.88 L541.06,75.79 L541.08,81.66 L542.28,81.46 L542.01,79.15 L541.60,78.47 L541.49,79.67 L541.26,75.74 L542.68,82.59 L542.37,79.82 L542.34,80.60 L542.14,76.92 L542.17,84.82 L542.38,82.97 L542.85,83.16 L541.78,81.86 L542.20,81.46 L542.73,79.02 L542.80,86.44 L542.41,82.93 L542.74,85.84 L542.48,84.92 L543.36,83.97 L543.38,85.87 L543.20,85.15 L543.16,87.00 L543.00,87.55 L544.02,85.07 L543.38,87.93 L544.40,88.55 L543.62,82.82 L544.67,85.52 L545.08,84.81 L545.43,85.59 L544.93,88.65 L544.93,88.66 L545.17,89.32 L546.22,88.49 L545.87,86.97 L546.35,88.55 L545.89,87.57 L545.96,89.74 L546.25,92.70 L547.44,89.04 L546.64,92.34 L547.42,89.38 L547.67,88.66 L546.99,90.83 L548.15,93.31 L548.82,89.20 L547.89,90.04 L547.89,89.88 L549.18,95.31 L548.49,92.44 L549.54,93.28 L549.84,95.20 L549.86,94.45 L549.89,96.19 L550.21,91.88 L549.60,93.54 L549.87,90.12 L550.80,93.83 L550.57,91.55 L550.86,91.89 L551.49,92.46 L551.75,87.61 L550.68,87.88 L551.10,90.31 L551.91,89.17 L551.26,89.26 L551.29,83.98 L551.36,91.20 L552.61,87.58 L551.60,89.17 L553.01,90.71 L552.58,84.48 L552.87,87.18 L552.87,90.74 L553.42,86.07 L553.82,89.05 L553.12,87.87 L553.51,85.78 L553.26,84.39 L553.24,85.21 L554.80,84.64 L554.85,87.63 L555.09,89.11 L554.69,80.52 L554.93,84.95 L554.97,83.69 L555.83,83.66 L555.39,87.26 L555.48,83.54 L556.66,83.26 L556.64,86.18 L556.58,85.12 L556.77,87.69 L557.41,86.66 L557.69,82.83 L557.73,86.53 L558.64,86.50 L558.20,86.65 L557.84,89.30 L557.70,89.10 L558.44,85.00 L558.65,86.58 L558.06,87.58 L558.81,90.22 L558.75,86.99 L558.33,87.55 L559.20,84.33 L559.58,90.16 L560.13,88.91 L559.81,88.09 L559.39,92.65 L559.15,92.11 L560.23,92.65 L559.32,89.58 L559.59,90.67 L559.92,90.11 L559.77,93.96 L560.02,91.66 L561.08,91.08 L560.76,89.79 L561.35,94.14 L561.38,90.55 L560.65,94.53 L561.49,96.13 L560.62,91.67 L561.19,90.02 L561.91,93.47 L560.99,89.02 L561.96,93.66 L562.53,94.11 L562.49,98.63 L561.99,98.38 L563.08,96.32 L562.84,97.94 L562.25,96.39 L563.52,96.61 L562.86,97.66 L563.58,98.77 L563.96,95.16 L563.50,96.53 L564.24,94.02 L562.82,91.60 L563.68,94.20 L564.35,95.58 L563.33,94.46 L564.42,93.46 L563.95,92.80 L563.53,91.52 L564.75,94.30 L564.41,91.10 L563.86,94.21 L565.02,93.12 L563.94,91.44 L564.33,91.34 L564.45,88.69 L564.47,91.65 L564.52,93.56 L564.10,90.62 L564.22,84.29 L564.46,91.48 L564.74,88.85 L565.18,87.89 L565.31,88.86 L566.07,91.48 L565.52,89.04 L565.93,88.17 L565.85,90.97 L565.99,86.16 L566.38,87.91 L566.64,90.57 L565.86,92.47 L566.73,88.64 L566.66,89.93 L566.34,87.89 L566.01,88.62 L566.59,90.24 L566.96,88.43 L566.91,97.00 L567.02,91.78 L566.81,93.50 L567.45,96.44 L567.58,92.72 L567.27,91.21 L567.27,92.32 L568.50,92.74 L568.38,95.23 L569.14,95.54 L568.77,93.33 L568.93,95.43 L569.75,95.17 L569.02,92.59 L569.89,97.83 L570.11,97.45 L569.27,96.53 L569.26,95.78 L569.60,96.49 L569.97,95.89 L569.82,95.17 L570.70,93.54 L570.15,94.59 L570.96,96.77 L570.31,92.32 L570.91,99.30 L570.77,94.15 L572.13,99.22 L571.94,100.85 L571.62,99.99 L572.48,98.34 L572.55,98.00 L572.19,97.81 L571.91,101.68 L573.02,100.70 L573.16,99.00 L572.87,102.44 L574.19,100.27 L573.87,100.88 L574.20,101.68 L574.64,101.15 L573.98,100.97 L574.22,102.38 L575.55,101.89 L575.18,101.13 L575.51,99.12 L575.79,100.78 L576.05,99.69 L575.40,99.77 L576.35,99.74 L575.72,96.97 L576.07,100.75 L575.91,94.24 L575.80,94.70 L575.72,98.41 L577.07,95.94 L576.53,98.97 L577.28,99.67 L576.34,97.85 L576.41,98.71 L577.24,97.56 L578.06,95.89 L577.26,96.36 L577.98,97.23 L578.36,97.80 L578.21,97.34 L577.44,97.79 L578.15,100.00 L577.77,97.71 L577.82,98.95 L578.83,96.47 L577.57,101.37 L578.58,101.17 L577.73,96.22 L578.62,102.03 L579.31,96.29 L578.89,102.71 L578.39,100.87 L578.74,102.40 L579.35,101.37 L579.25,102.83 L578.65,99.90 L579.31,108.02 L579.89,104.57 L579.03,105.96 L579.15,103.02 L579.33,99.61 L579.16,99.45 L580.09,104.25 L580.03,102.40 L580.61,103.22 L579.88,105.77 L580.65,109.00 L580.88,106.16 L581.19,104.70 L579.88,105.81 L581.36,106.65 L580.14,110.84 L581.18,107.08 L581.19,108.10 L580.34,108.10 L581.45,105.38 L581.81,111.71 L580.88,108.81 L581.87,108.54 L581.69,108.54 L581.53,108.39 L581.48,108.21 L583.31,109.57 L582.20,107.71 L583.07,113.12 L582.86,110.97 L583.95,111.31 L583.94,111.80 L583.60,112.59 L585.17,108.83 L584.45,112.25 L585.50,111.80 L585.45,115.87 L584.89,111.03 L584.77,112.64 L585.50,113.90 L585.93,112.56 L586.33,112.02 L586.47,112.66 L586.72,110.38 L587.38,112.29 L586.64,115.34 L586.70,111.30 L587.00,109.24 L587.19,116.47 L588.36,113.34 L586.97,115.06 L587.56,111.37 L588.32,112.29 L587.85,114.26 L587.91,116.51 L589.37,117.61 L588.19,113.28 L589.33,115.72 L589.31,115.02 L588.56,114.86 L589.88,121.78 L589.77,118.82 L590.54,115.95 L590.27,118.29 L589.81,120.96 L590.18,118.16 L590.45,117.07 L590.60,118.45 L590.59,117.98 L590.28,120.19 L591.44,122.60 L590.95,117.38 L591.00,121.12 L591.85,121.10 L591.35,122.22 L591.93,119.21 L591.14,121.40 L591.62,123.65 L592.03,125.36 L592.52,124.41 L591.33,119.34 L592.70,120.52 L591.72,125.77 L591.81,124.46 L592.34,125.09 L592.62,124.94 L592.17,122.34 L593.27,119.73 L593.00,128.88 L593.62,122.00 L592.78,126.01 L593.50,125.08 L593.17,124.50 L593.53,125.22 L593.07,127.88 L593.27,127.66 L593.59,129.49 L593.96,127.18 L593.97,126.30 L594.74,128.44 L595.24,127.61 L595.27,129.16 L595.13,130.71 L594.99,128.76 L595.01,129.82 L595.22,129.34 L595.75,128.48 L595.47,130.89 L595.92,128.94 L596.69,131.87 L596.41,130.54 L595.94,129.47 L595.67,133.58 L596.54,131.98 L596.63,130.41 L596.02,134.97 L597.07,130.96 L597.60,131.05 L597.06,133.77 L597.32,129.74 L597.61,134.36 L598.12,130.56 L598.44,133.91 L598.56,133.95 L598.57,134.89 L598.09,135.17 L598.47,131.94 L598.49,138.18 L598.68,136.99 L598.85,135.71 L600.06,133.55 L599.27,135.58 L600.51,134.30 L601.15,134.50 L601.02,138.01 L600.40,137.81 L600.85,136.65 L600.61,143.02 L600.75,138.12 L601.86,137.66 L601.53,139.73 L600.88,136.86 L601.44,138.87 L602.48,141.43 L601.67,137.15 L602.27,139.98 L602.17,140.64 L602.66,138.33 L602.47,141.08 L603.51,141.27 L603.08,140.03 L603.20,142.90 L603.15,142.19 L603.21,140.12 L604.32,140.80 L604.60,140.57 L604.54,143.86 L604.58,137.03 L605.54,142.05 L605.43,142.51 L604.76,141.28 L605.91,140.92 L605.52,139.82 L606.78,142.20 L606.58,139.27 L606.54,139.25 L606.68,138.26 L608.10,141.27 L607.24,140.04 L608.45,141.65 L608.99,141.62 L608.17,139.08 L609.49,142.74 L608.41,141.16 L609.71,140.76 L609.39,144.98 L609.61,142.68 L610.45,140.54 L610.11,141.18 L611.53,143.31 L610.74,141.24 L611.44,143.60 L611.19,137.53 L611.81,140.41 L612.64,143.99 L613.25,143.96 L613.09,143.47 L613.98,142.22 L613.11,142.01 L614.68,148.08 L614.28,140.50 L614.89,142.95 L614.74,145.09 L614.98,144.43 L615.85,143.61 L614.87,142.37 L615.21,143.08 L616.59,144.03 L615.86,148.30 L616.71,145.28 L617.55,144.88 L617.30,142.97 L616.58,148.88 L617.15,144.72 L618.19,147.47 L617.73,147.34 L617.61,148.95 L618.63,145.71 L619.26,146.34 L618.30,145.24 L619.32,145.93 L619.03,148.98 L620.05,148.35 L620.50,145.92 L620.02,148.20 L620.60,148.81 L621.73,150.36 L620.94,148.16 L620.98,145.70 L621.75,147.97 L621.94,147.05 L621.47,149.31 L622.20,149.47 L621.78,146.85 L622.24,148.68 L622.11,149.28 L623.24,150.14 L622.00,146.03 L623.61,149.82 L623.15,147.16 L623.46,150.63 L622.73,151.05 L623.04,153.75 L623.57,152.89 L623.34,151.85 L623.93,152.35 L623.53,151.62 L624.45,149.90 L623.56,150.94 L625.19,152.92 L623.84,155.39 L625.23,151.50 L624.63,151.92 L625.71,154.61 L624.41,152.45 L625.20,156.05 L624.85,154.08 L625.95,155.07 L625.26,157.96 L625.49,155.00 L625.68,156.54 L627.08,153.82 L626.90,160.28 L627.04,154.63 L627.40,157.08 L626.42,157.12 L627.32,154.96 L626.69,159.20 L627.92,155.36 L628.54,157.42 L628.29,159.02 L628.77,158.42 L629.16,157.77 L629.22,161.15 L629.40,157.57 L629.66,157.84 L629.81,158.61 L630.32,160.74 L629.86,159.00 L630.78,161.00 L630.71,160.18 L630.05,160.64 L630.22,164.04 L630.96,159.87 L631.90,161.49 L631.35,160.29 L632.25,159.07 L632.77,162.25 L632.86,159.33 L632.85,161.27 L633.42,162.38 L633.69,160.95 L633.90,164.12 L632.93,164.29 L633.36,162.32 L634.43,162.78 L634.48,160.42 L634.59,161.28 L635.66,162.69 L634.73,160.59 L635.31,160.53 L636.21,160.78 L636.73,159.51 L635.78,162.82 L637.32,162.58 L637.78,161.61 L637.08,162.46 L637.73,162.02 L638.43,165.01 L638.78,160.37 L638.31,163.22 L639.08,163.28 L638.26,162.36 L638.53,162.58 L640.01,162.81 L639.15,160.21 L639.56,164.02 L640.61,165.07 L640.28,164.86 L641.12,161.26 L640.99,166.69 L640.86,166.34 L641.91,165.61 L641.62,163.29 L641.44,166.83 L642.52,162.89 L642.10,165.17 L641.50,162.36 L642.85,168.24 L642.34,163.83 L642.94,162.51 L643.05,166.09 L642.01,162.18 L643.59,163.14 L643.60,164.02 L643.21,164.28 L642.47,164.36 L643.53,160.35 L643.06,163.79 L643.59,161.95 L643.51,160.25 L644.23,163.57 L644.13,160.69 L644.30,157.73 L644.38,163.24 L644.30,160.00 L644.81,160.81 L643.82,160.00 L644.57,157.92 L645.07,159.75 L644.30,158.14 L644.65,158.33 L644.93,158.76 L644.76,161.99 L645.10,156.89 L645.26,158.46 L645.59,156.83 L645.66,157.89 L645.79,157.44 L645.64,157.62 L646.91,155.85 L646.62,152.98 L646.99,156.53 L647.10,154.97 L646.78,155.91 L647.38,152.59 L646.75,153.68 L647.30,151.96 L647.06,156.70 L648.12,153.02 L647.23,152.83 L648.01,154.54 L649.23,151.64 L648.12,153.20 L649.17,154.36 L649.23,153.10 L650.15,150.52 L650.17,153.81 L650.97,153.51 L650.94,150.88 L650.63,150.82 L650.85,155.19 L651.23,151.94 L651.20,153.52 L652.59,151.77 L652.57,151.40 L653.24,153.03 L652.21,154.50 L653.06,154.74 L653.77,150.71 L653.93,153.86 L653.76,152.30 L654.98,155.27 L654.18,154.92 L655.32,151.37 L656.00,154.45 L656.31,152.64 L656.22,154.47 L656.90,151.78 L656.93,156.47 L656.96,156.88 L657.12,155.25 L657.65,156.19 L656.87,155.72 L656.83,157.23 L658.14,154.50 L657.61,152.87 L658.56,156.76 L657.91,156.64 L657.79,159.71 L658.19,157.81 L658.81,159.62 L659.39,158.92 L658.43,161.43 L658.77,159.57 L659.09,158.14 L659.62,158.35 L659.20,160.23 L660.36,162.67 L659.22,160.92 L660.57,158.67 L660.16,162.59 L659.73,161.36 L660.72,159.58 L660.58,159.74 L660.46,159.77 L661.63,161.97 L661.94,165.23 L661.04,162.62 L661.39,163.59 L660.95,163.23 L661.98,161.30 L661.68,164.55 L661.71,163.61 L661.63,165.31 L662.11,165.63 L662.10,167.45 L661.83,166.13 L662.05,167.95 L663.29,163.67 L663.04,165.33 L663.11,169.86 L663.22,165.69 L662.20,168.09 L663.67,167.81 L662.82,167.31 L663.18,165.76 L664.40,169.32 L663.52,170.31 L663.80,169.58 L664.88,169.15 L663.82,169.70 L664.03,167.73 L664.83,171.13 L665.87,172.06 L665.25,172.43 L666.02,168.83 L665.81,171.06 L665.93,171.33 L665.36,171.33 L666.98,172.42 L667.30,170.58 L666.64,168.11 L667.45,171.83 L667.70,170.72 L666.91,172.65 L667.71,172.92 L668.31,172.82 L668.44,173.36 L668.82,173.01 L668.45,173.80 L668.79,175.18 L669.39,174.77 L668.49,172.20 L668.74,174.87 L668.70,176.16 L669.67,174.27 L669.64,176.09 L670.04,176.34 L669.99,174.24 L669.58,174.23 L670.42,176.23 L670.49,176.04 L670.42,175.64 L671.26,174.85 L670.64,176.64 L672.05,175.86 L671.18,177.28 L672.57,177.65 L672.44,178.42 L672.69,179.99 L671.63,176.98 L671.91,177.02 L672.02,181.93 L672.23,178.98 L672.70,179.85 L673.61,183.46 L674.20,182.12 L673.35,179.41 L674.33,180.76 L673.48,181.07 L673.81,183.47 L674.99,180.89 L674.08,182.49 L675.39,183.33 L674.35,184.62 L675.92,179.98 L675.58,179.71 L675.98,181.64 L675.32,180.55 L675.50,181.52 L676.26,182.06 L675.86,183.15 L677.38,183.72 L677.57,183.62 L677.53,183.42 L677.03,184.61 L678.52,183.92 L678.09,185.11 L678.64,184.56 L679.09,185.72 L678.58,185.77 L678.73,184.97 L679.48,185.81 L680.33,185.06 L679.14,186.15 L679.47,186.14 L680.37,185.77 L680.53,184.75 L681.11,185.07 L681.81,188.14 L682.08,186.81 L682.23,184.51 L682.25,187.30 L682.80,187.14 L682.00,184.79 L683.49,189.12 L682.66,185.68 L683.01,188.93 L682.95,187.41 L683.79,189.45 L684.86,190.70 L684.87,188.34 L685.13,191.31 L684.65,184.66 L684.52,189.02 L685.14,190.74 L685.58,191.90 L686.57,187.16 L686.89,190.07 L686.75,186.52 L686.65,192.16 L687.40,191.84 L688.20,189.00 L687.16,191.88 L688.01,188.48 L688.90,190.42 L688.75,188.21 L689.45,193.09 L688.61,192.32 L689.85,192.18 L689.80,192.99 L690.48,192.10 L690.28,192.87 L690.57,193.74 L690.14,192.35 L690.44,189.99 L690.64,194.99 L691.01,193.22 L691.82,195.09 L692.20,192.60 L691.92,191.31 L691.82,192.01 L692.58,193.74 L692.48,193.42 L694.05,194.48 L693.85,194.11 L693.28,192.38 L693.41,195.16 L694.60,191.89 L694.46,193.69 L695.49,191.94 L694.80,191.18 L695.83,191.85 L695.11,191.15 L696.07,192.98 L695.75,189.14 L697.07,192.28 L696.18,191.36 L697.30,190.21 L696.84,189.60 L698.43,191.72 L697.78,191.84 L697.84,190.16 L697.89,189.69 L698.31,194.25 L699.91,191.71 L698.87,189.98 L700.18,193.54 L700.03,191.83 L699.64,193.43 L700.19,192.15 L700.62,194.95 L700.59,192.49 L700.90,191.45 L701.85,191.59 L701.85,193.76 L702.44,193.27 L703.00,192.72 L702.65,193.24 L702.41,193.71 L702.66,191.18 L702.98,194.21 L703.44,192.83 L704.06,194.01 L704.21,194.44 L704.67,194.55 L704.31,196.07 L704.88,193.53 L706.24,194.18 L706.71,192.29 L706.30,194.20" fill="none" stroke="#0000ff" stroke-width="1.5" stroke-linejoin="miter"/>
<path d="M415.90,217.10 L415.99,216.71 L415.86,216.68 L415.90,215.87 L416.09,215.83 L416.00,215.98 L416.05,215.40 L416.11,214.42 L416.18,215.02 L416.34,213.81 L416.33,213.49 L416.52,213.93 L416.39,213.50 L416.44,213.33 L416.64,213.06 L416.64,212.82 L416.60,212.75 L416.55,211.90 L416.64,211.69 L416.72,211.27 L416.85,210.79 L416.96,210.54 L416.98,210.62 L416.97,210.25 L417.12,210.41 L417.20,209.60 L416.98,209.05 L417.04,208.51 L417.19,209.04 L417.32,208.96 L417.31,208.28 L417.39,208.07 L417.41,207.33 L417.53,206.90 L417.61,206.76 L417.38,206.13 L417.62,206.44 L417.71,205.37 L417.59,204.85 L417.55,205.05 L417.73,205.52 L417.65,204.95 L417.92,204.72 L417.85,204.45 L418.05,204.17 L417.99,204.02 L418.14,203.56 L418.00,203.38 L418.09,202.11 L418.31,202.00 L418.10,202.77 L418.17,202.00 L418.30,201.82 L418.19,201.04 L418.37,200.83 L418.58,200.36 L418.54,200.73 L418.59,199.58 L418.44,199.74 L418.74,200.01 L418.76,198.81 L418.59,198.60 L418.80,198.83 L418.72,198.42 L418.75,198.05 L418.74,197.64 L418.86,197.51 L418.90,197.40 L419.24,197.03 L419.12,196.37 L419.22,196.10 L419.46,195.82 L419.58,195.80 L419.36,194.94 L419.44,195.16 L419.75,194.61 L419.61,194.73 L419.80,195.09 L419.75,194.03 L419.95,193.52 L420.17,193.29 L420.01,193.40 L420.12,192.29 L420.24,192.75 L420.40,192.70 L420.48,191.72 L420.61,191.79 L420.63,191.67 L420.68,190.43 L420.63,190.74 L420.60,190.84 L420.75,190.39 L420.96,189.85 L421.12,189.90 L421.21,189.10 L421.03,189.27 L421.11,188.53 L421.31,188.42 L421.48,188.29 L421.47,187.99 L421.59,187.09 L421.70,187.65 L421.73,187.16 L421.61,186.58 L421.88,185.85 L422.02,185.66 L421.90,186.30 L422.09,184.66 L421.98,185.66 L422.29,184.98 L422.34,184.69 L422.47,184.68 L422.43,184.52 L422.33,183.37 L422.37,183.76 L422.61,183.62 L422.82,182.68 L422.86,181.77 L422.73,182.51 L422.81,181.90 L422.98,181.93 L422.88,181.28 L423.19,181.41 L423.13,180.45 L423.29,180.75 L423.20,179.35 L423.26,180.23 L423.28,179.45 L423.24,179.21 L423.29,179.62 L423.44,178.64 L423.44,178.25 L423.56,177.54 L423.47,177.09 L423.67,177.20 L423.79,177.14 L423.75,177.16 L423.94,175.93 L423.83,176.00 L423.90,175.60 L424.02,175.35 L423.99,174.89 L424.20,175.20 L424.25,174.51 L424.07,173.70 L424.32,173.29 L424.13,173.52 L424.15,173.88 L424.26,173.57 L424.50,173.50 L424.59,172.94 L424.56,172.73 L424.43,172.60 L424.50,172.55 L424.81,170.79 L424.87,170.82 L424.87,171.17 L424.81,170.82 L424.79,170.66 L424.98,170.12 L424.78,170.03 L424.83,169.00 L424.98,168.96 L424.94,168.46 L425.31,168.17 L425.05,168.46 L425.15,166.87 L425.20,168.28 L425.20,167.48 L425.49,166.23 L425.34,167.13 L425.50,166.94 L425.59,166.84 L425.63,165.93 L425.59,165.59 L425.71,166.07 L425.82,165.33 L425.61,165.30 L425.94,164.72 L425.87,163.67 L426.05,163.83 L425.96,163.40 L425.91,163.34 L425.89,163.01 L425.99,162.68 L426.23,162.10 L426.12,162.25 L426.18,161.38 L426.12,161.33 L426.42,161.03 L426.40,160.81 L426.58,160.61 L426.34,160.56 L426.52,160.02 L426.69,159.15 L426.69,158.86 L426.84,159.24 L426.79,158.22 L426.81,158.98 L426.65,157.73 L426.73,157.96 L426.82,158.05 L426.83,157.44 L427.13,157.52 L427.11,156.95 L427.02,156.19 L427.13,156.25 L427.11,155.90 L427.41,155.73 L427.20,155.56 L427.50,154.67 L427.21,154.32 L427.39,154.52 L427.37,153.38 L427.53,153.64 L427.43,153.58 L427.59,152.97 L427.60,152.75 L427.62,152.39 L427.86,151.63 L427.87,151.51 L427.82,151.29 L427.85,150.34 L428.04,151.10 L428.06,150.55 L428.20,151.03 L428.15,150.19 L428.02,149.60 L428.21,148.63 L428.36,148.29 L428.41,148.76 L428.41,147.73 L428.46,147.74 L428.30,147.90 L428.43,147.69 L428.55,147.91 L428.63,147.47 L428.62,146.25 L428.49,145.94 L428.72,146.29 L428.78,145.13 L428.90,145.41 L428.77,145.06 L429.00,145.19 L428.85,144.74 L429.01,144.22 L429.01,142.86 L429.20,143.07 L429.20,143.48 L429.07,143.00 L429.17,142.67 L429.34,142.49 L429.19,141.86 L429.49,142.23 L429.55,141.75 L429.54,141.17 L429.58,140.72 L429.80,140.53 L429.59,140.49 L429.58,141.12 L429.80,139.72 L429.86,140.03 L429.85,138.26 L429.88,139.22 L430.07,139.66 L430.27,138.70 L430.02,138.48 L430.36,138.00 L430.34,137.03 L430.32,137.30 L430.20,137.80 L430.42,137.10 L430.42,136.32 L430.48,136.26 L430.73,136.02 L430.79,136.13 L430.58,135.13 L430.93,135.43 L430.75,134.24 L431.07,133.95 L430.98,134.25 L430.92,133.36 L430.89,133.70 L431.03,133.71 L431.33,133.25 L431.23,132.47 L431.16,132.51 L431.48,131.13 L431.51,132.35 L431.62,130.64 L431.52,130.30 L431.65,130.67 L431.60,130.27 L431.59,130.12 L431.56,129.19 L431.78,129.72 L431.78,129.12 L432.08,128.72 L431.86,129.30 L432.03,128.13 L432.03,127.74 L432.01,127.87 L432.34,127.67 L432.39,126.85 L432.48,126.86 L432.23,126.34 L432.25,126.34 L432.36,125.87 L432.43,125.84 L432.67,124.56 L432.60,124.70 L432.64,124.34 L432.68,124.77 L432.98,124.52 L432.69,124.03 L433.00,122.99 L432.79,123.29 L432.89,122.96 L432.94,123.03 L433.13,123.21 L432.84,121.86 L433.20,122.47 L433.07,121.64 L433.07,121.19 L433.31,120.90 L433.36,120.99 L433.11,119.54 L433.25,120.20 L433.34,119.86 L433.36,120.05 L433.44,118.85 L433.19,118.27 L433.51,118.65 L433.49,118.31 L433.38,118.88 L433.55,117.83 L433.60,117.54 L433.57,117.13 L433.62,116.81 L433.66,116.16 L433.46,116.30 L433.86,115.64 L433.77,115.96 L433.64,115.57 L433.68,114.57 L433.73,115.27 L433.65,114.13 L433.84,113.34 L433.81,113.71 L433.83,112.90 L433.78,112.23 L434.07,112.56 L433.91,112.89 L434.06,112.41 L433.98,111.21 L434.25,111.97 L434.05,111.23 L434.10,111.13 L434.39,111.43 L434.14,110.12 L434.25,110.11 L434.17,109.25 L434.30,108.57 L434.23,109.48 L434.23,110.06 L434.59,109.01 L434.62,108.46 L434.67,107.83 L434.50,106.38 L434.73,107.82 L434.51,108.07 L434.71,106.60 L434.76,106.15 L434.80,106.24 L434.89,105.96 L435.20,105.86 L434.96,105.28 L435.27,104.53 L435.18,105.40 L435.22,104.94 L435.50,104.32 L435.56,104.02 L435.28,103.97 L435.63,102.58 L435.41,103.42 L435.82,102.84 L435.62,102.43 L435.72,102.08 L435.76,100.84 L435.82,102.11 L436.07,101.05 L435.84,100.77 L436.21,100.96 L436.36,100.89 L436.03,99.69 L436.50,99.79 L436.57,99.98 L436.40,98.86 L436.49,99.09 L436.70,98.84 L436.73,98.12 L436.74,98.35 L436.67,96.87 L436.95,97.16 L436.67,97.53 L436.81,97.07 L436.78,97.33 L436.98,96.86 L437.39,96.04 L437.07,96.82 L437.04,94.20 L437.47,95.55 L437.39,95.09 L437.57,94.48 L437.67,94.72 L437.74,93.81 L437.49,92.38 L437.83,93.51 L437.79,92.51 L437.78,92.61 L437.85,91.94 L438.14,92.80 L438.05,92.84 L438.24,89.87 L438.13,92.39 L438.72,91.21 L438.18,89.68 L438.77,89.06 L438.90,90.18 L438.40,90.23 L438.53,89.53 L439.14,90.00 L438.80,88.64 L438.87,89.05 L439.43,87.68 L439.44,88.33 L439.61,87.62 L439.37,87.62 L439.57,87.94 L440.11,86.91 L439.87,87.76 L440.45,87.13 L440.14,86.20 L440.87,85.66 L440.79,86.15 L440.80,85.72 L441.10,85.24 L440.86,84.57 L441.57,84.25 L441.31,83.66 L441.67,83.29 L441.88,84.64 L441.98,85.38 L441.94,80.46 L441.86,82.60" fill="none" stroke="#0000ff" stroke-width="2.0" stroke-linejoin="round"/>
<ellipse cx="33.60" cy="201.75" rx="3.4" ry="3.9" fill="#ff0000"/>
<ellipse cx="40.10" cy="151.55" rx="3.4" ry="3.9" fill="#ff0000"/>
<ellipse cx="45.10" cy="130.45" rx="3.4" ry="3.9" fill="#ff0000"/>
<ellipse cx="52.70" cy="119.55" rx="3.4" ry="3.9" fill="#ff0000"/>
<ellipse cx="63.60" cy="94.75" rx="3.4" ry="3.9" fill="#ff0000"/>
<ellipse cx="64.10" cy="68.95" rx="3.4" ry="3.9" fill="#ff0000"/>
<ellipse cx="71.80" cy="36.85" rx="3.4" ry="3.9" fill="#ff0000"/>
<ellipse cx="77.00" cy="62.85" rx="3.4" ry="3.9" fill="#ff0000"/>
<ellipse cx="91.50" cy="18.75" rx="3.4" ry="3.9" fill="#ff0000"/>
<ellipse cx="110.70" cy="30.75" rx="3.4" ry="3.9" fill="#ff0000"/>
<ellipse cx="130.50" cy="48.75" rx="3.4" ry="3.9" fill="#ff0000"/>
<ellipse cx="149.60" cy="59.65" rx="3.4" ry="3.9" fill="#ff0000"/>
<ellipse cx="169.40" cy="80.15" rx="3.4" ry="3.9" fill="#ff0000"/>
<ellipse cx="188.60" cy="96.75" rx="3.4" ry="3.9" fill="#ff0000"/>
<ellipse cx="200.80" cy="121.95" rx="3.4" ry="3.9" fill="#ff0000"/>
<ellipse cx="208.40" cy="158.45" rx="3.4" ry="3.9" fill="#ff0000"/>
<ellipse cx="225.70" cy="118.25" rx="3.4" ry="3.9" fill="#ff0000"/>
<ellipse cx="227.70" cy="148.95" rx="3.4" ry="3.9" fill="#ff0000"/>
<ellipse cx="246.20" cy="129.15" rx="3.4" ry="3.9" fill="#ff0000"/>
<ellipse cx="247.40" cy="158.25" rx="3.4" ry="3.9" fill="#ff0000"/>
<ellipse cx="266.70" cy="170.35" rx="3.4" ry="3.9" fill="#ff0000"/>
<ellipse cx="286.50" cy="166.45" rx="3.4" ry="3.9" fill="#ff0000"/>
<ellipse cx="305.50" cy="174.65" rx="3.4" ry="3.9" fill="#ff0000"/>
<ellipse cx="325.30" cy="188.65" rx="3.4" ry="3.9" fill="#ff0000"/>
<ellipse cx="416.70" cy="201.65" rx="3.4" ry="3.9" fill="#ff0000"/>
<ellipse cx="423.70" cy="161.35" rx="3.4" ry="3.9" fill="#ff0000"/>
<ellipse cx="428.10" cy="139.05" rx="3.4" ry="3.9" fill="#ff0000"/>
<ellipse cx="435.70" cy="119.55" rx="3.4" ry="3.9" fill="#ff0000"/>
<ellipse cx="442.70" cy="92.85" rx="3.4" ry="3.9" fill="#ff0000"/>
<ellipse cx="442.60" cy="69.95" rx="3.4" ry="3.9" fill="#ff0000"/>
<ellipse cx="455.10" cy="36.75" rx="3.4" ry="3.9" fill="#ff0000"/>
<ellipse cx="457.70" cy="61.55" rx="3.4" ry="3.9" fill="#ff0000"/>
<ellipse cx="474.90" cy="18.85" rx="3.4" ry="3.9" fill="#ff0000"/>
<ellipse cx="494.00" cy="30.35" rx="3.4" ry="3.9" fill="#ff0000"/>
<ellipse cx="513.60" cy="48.55" rx="3.4" ry="3.9" fill="#ff0000"/>
<ellipse cx="532.70" cy="59.45" rx="3.4" ry="3.9" fill="#ff0000"/>
<ellipse cx="553.00" cy="80.05" rx="3.4" ry="3.9" fill="#ff0000"/>
<ellipse cx="572.00" cy="96.75" rx="3.4" ry="3.9" fill="#ff0000"/>
<ellipse cx="591.60" cy="158.15" rx="3.4" ry="3.9" fill="#ff0000"/>
<ellipse cx="599.70" cy="130.15" rx="3.4" ry="3.9" fill="#ff0000"/>
<ellipse cx="607.80" cy="121.95" rx="3.4" ry="3.9" fill="#ff0000"/>
<ellipse cx="610.90" cy="148.95" rx="3.4" ry="3.9" fill="#ff0000"/>
<ellipse cx="630.70" cy="128.45" rx="3.4" ry="3.9" fill="#ff0000"/>
<ellipse cx="630.20" cy="158.65" rx="3.4" ry="3.9" fill="#ff0000"/>
<ellipse cx="649.90" cy="169.85" rx="3.4" ry="3.9" fill="#ff0000"/>
<ellipse cx="669.50" cy="166.35" rx="3.4" ry="3.9" fill="#ff0000"/>
<ellipse cx="688.70" cy="174.25" rx="3.4" ry="3.9" fill="#ff0000"/>
<ellipse cx="708.70" cy="188.55" rx="3.4" ry="3.9" fill="#ff0000"/>
<rect x="216.6" y="9.4" width="107.7" height="43.8" fill="#fff" stroke="#3a3a3a" stroke-width="1"/>
<line x1="220" y1="21.5" x2="243.1" y2="21.5" stroke="#0000ff" stroke-width="2.5"/>
<text transform="translate(244.30,25.40) scale(0.824,1)" font-size="12" text-anchor="start" >Determinstic</text>
<ellipse cx="231.9" cy="41.75" rx="3.3" ry="3.9" fill="#ff0000"/>
<text transform="translate(244.30,45.10) scale(0.824,1)" font-size="12" text-anchor="start" >COVID-19 Cases</text>
<rect x="597" y="8.8" width="109" height="40.9" fill="#fff" stroke="#3a3a3a" stroke-width="1"/>
<line x1="600.3" y1="20.1" x2="623.5" y2="20.1" stroke="#0000ff" stroke-width="1.8"/>
<text transform="translate(624.70,24.10) scale(0.835,1)" font-size="12" text-anchor="start" >Stochastic</text>
<ellipse cx="612" cy="38.2" rx="3.3" ry="3.9" fill="#ff0000"/>
<text transform="translate(624.70,42.10) scale(0.83,1)" font-size="12" text-anchor="start" >COVID-19 Cases</text>
</svg>
</body></html>
